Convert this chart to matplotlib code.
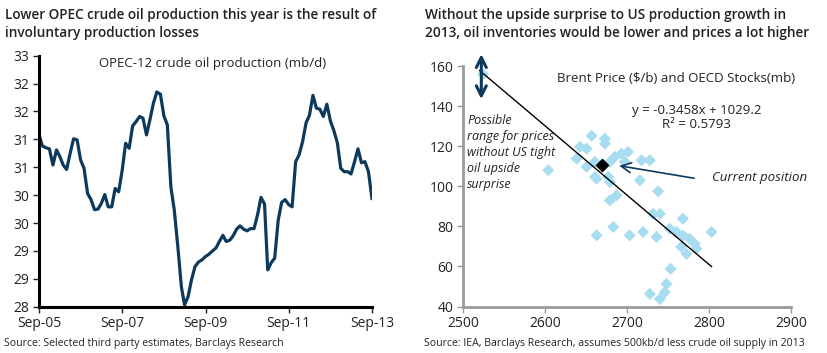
import numpy as np
import pandas as pd
import matplotlib
matplotlib.use('Agg')
import matplotlib.pyplot as plt

plt.rcParams['font.family'] = ['Open Sans', 'DejaVu Sans']

# OPEC-12 crude oil production, monthly Sep-05 .. Sep-13 (mb/d)
opec_prod = [31.08, 30.88, 30.85, 30.83, 30.54, 30.81, 30.70, 30.54, 30.46, 30.75,
             31.01, 30.99, 30.63, 30.48, 30.03, 29.92, 29.74, 29.75, 29.85, 30.01,
             29.79, 29.79, 30.12, 30.06, 30.45, 30.93, 30.84, 31.24, 31.32, 31.41,
             31.38, 31.08, 31.35, 31.65, 31.85, 31.81, 31.42, 31.26, 30.15, 29.73,
             29.08, 28.36, 28.03, 28.18, 28.48, 28.72, 28.80, 28.84, 28.90, 28.94,
             29.00, 29.05, 29.17, 29.28, 29.17, 29.19, 29.27, 29.39, 29.45, 29.39,
             29.36, 29.40, 29.40, 29.64, 29.96, 29.84, 28.66, 28.79, 28.87, 29.55,
             29.87, 29.92, 29.83, 29.79, 30.60, 30.72, 30.96, 31.30, 31.43, 31.79,
             31.56, 31.54, 31.41, 31.63, 31.33, 31.16, 30.94, 30.48, 30.42, 30.42,
             30.38, 30.60, 30.83, 30.58, 30.60, 30.42, 29.94]
months = pd.date_range('2005-09-01', periods=len(opec_prod), freq='MS')
x_ticks = ['Sep-05', 'Sep-07', 'Sep-09', 'Sep-11', 'Sep-13']

# OECD stocks (mb) vs Brent price ($/b)
stocks = [2524, 2603.7, 2638.3, 2642.3, 2650.5, 2650.5, 2656.6, 2660.6, 2660.6, 2662.7,
          2672.8, 2673, 2677, 2679, 2679, 2685, 2693, 2697, 2701, 2717.6,
          2727.7, 2715.5, 2737.8, 2679, 2687, 2683, 2662.7, 2703, 2719.5, 2735.8,
          2731.7, 2740, 2752, 2760, 2768, 2768, 2776, 2782.6, 2766, 2772.5,
          2784.6, 2803, 2753, 2748, 2746, 2727.7, 2740]
brent = [156, 108, 113.8, 119.7, 118.8, 109.7, 125.2, 104.7, 112.2, 103.8,
         123.8, 121.3, 104.7, 102.2, 112.2, 114.7, 116.3, 112.2, 117.2, 113,
         113, 103, 97.5, 93, 95.5, 79.7, 75.5, 75.5, 77.2, 74.7,
         86.3, 86.3, 78.8, 77.2, 83.8, 75.5, 73.8, 71.3, 69.8, 66.3,
         68.8, 77.2, 58.8, 51.3, 47.2, 46.3, 43.8]
current_stock, current_brent = 2669, 110.5
slope, intercept = -0.3458, 1029.2
fit_x = [2520, 2803]

fig = plt.figure(figsize=(8.27, 3.53), dpi=100)

# ---- left chart
ax1 = fig.add_axes([0.0472, 0.1312, 0.4026, 0.711])
ax1.plot(months, opec_prod, color='#0d3a5c', lw=2.3, solid_joinstyle='round')
ax1.set_xlim(months[0], months[-1])
ax1.set_ylim(28, 32.5)
yt = np.arange(28, 32.51, 0.5)
ax1.set_yticks(yt)
ax1.set_yticklabels([str(int(np.floor(v + 0.5))) for v in yt])
ax1.set_xticks([months[0], months[24], months[48], months[72], months[96]])
ax1.set_xticklabels(x_ticks)
for s in ['top', 'right']:
    ax1.spines[s].set_visible(False)
for s in ['left', 'bottom']:
    ax1.spines[s].set_linewidth(2.2)
    ax1.spines[s].set_color('black')
ax1.tick_params(labelsize=10, colors='#222222', length=4, width=1, pad=3)
ax1.text(0.18, 0.97, 'OPEC-12 crude oil production (mb/d)', transform=ax1.transAxes,
         fontsize=9.5, color='#222222', va='center')

# ---- right chart
ax2 = fig.add_axes([0.5602, 0.1317, 0.3963, 0.681])
ax2.scatter(stocks, brent, marker='D', s=38, color='#a8dcf0', edgecolors='none', zorder=2)
ax2.plot(fit_x, [slope * v + intercept for v in fit_x], color='black', lw=1, zorder=3)
ax2.scatter([current_stock], [current_brent], marker='D', s=38, color='black', zorder=4)
ax2.set_xlim(2500, 2900)
ax2.set_ylim(40, 160)
ax2.set_xticks([2500, 2600, 2700, 2800, 2900])
ax2.set_yticks([40, 60, 80, 100, 120, 140, 160])
for s in ['top', 'right']:
    ax2.spines[s].set_visible(False)
for s in ['left', 'bottom']:
    ax2.spines[s].set_linewidth(2)
    ax2.spines[s].set_color('#9a9a9a')
ax2.tick_params(labelsize=10, labelcolor='#222222', color='#9a9a9a', length=4, width=1, pad=3)

ax2.annotate('', xy=(2522, 166), xytext=(2522, 143.5), annotation_clip=False,
             arrowprops=dict(arrowstyle='<->', color='#0d3a5c', lw=2.2, mutation_scale=18,
                             shrinkA=0, shrinkB=0))
ax2.annotate('', xy=(2687, 110.5), xytext=(2785, 103.8),
             arrowprops=dict(arrowstyle='->', color='#0d3a5c', lw=1.2, mutation_scale=18))
ax2.text(2505, 117, 'Possible\nrange for prices\nwithout US tight\noil upside\nsurprise',
         fontsize=9, style='italic', color='#222222', va='center', ha='left',
         linespacing=1.3)
ax2.text(2803, 104.5, 'Current position', fontsize=9.5, style='italic', color='#222222',
         va='center', ha='left')
ax2.text(2614, 154, 'Brent Price ($/b) and OECD Stocks(mb)', fontsize=9.5,
         color='#222222', va='center')
ax2.text(2785, 134.5, 'y = -0.3458x + 1029.2\nR\u00b2 = 0.5793', fontsize=9.5,
         color='#222222', va='center', ha='center', linespacing=1.1)

# ---- titles and sources
fig.text(0.006, 0.932, 'Lower OPEC crude oil production this year is the result of\ninvoluntary production losses',
         fontsize=9.8, color='#222222', va='center', ha='left', weight='semibold', linespacing=1.4)
fig.text(0.514, 0.932, 'Without the upside surprise to US production growth in\n2013, oil inventories would be lower and prices a lot higher',
         fontsize=9.8, color='#222222', va='center', ha='left', weight='semibold', linespacing=1.4)
fig.text(0.005, 0.028, 'Source: Selected third party estimates, Barclays Research',
         fontsize=7.6, color='#222222', va='center')
fig.text(0.513, 0.028, 'Source: IEA, Barclays Research, assumes 500kb/d less crude oil supply in 2013',
         fontsize=7.6, color='#222222', va='center')

fig.savefig('out.png', dpi=100)
